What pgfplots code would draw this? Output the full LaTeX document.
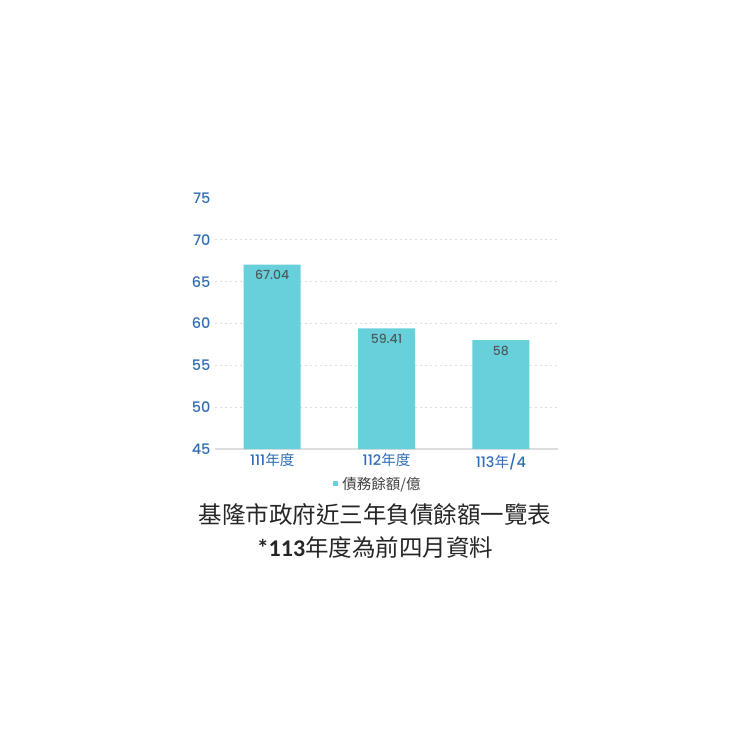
\documentclass[border=0pt]{standalone}
\usepackage{pgfplots}
\pgfplotsset{compat=1.18}
\usepackage{fontspec}
\setmainfont{Poppins}[UprightFont=* Medium]
\newfontfamily\cjk{Noto Sans CJK TC}
\newfontfamily\calib{Carlito}
\definecolor{barcol}{HTML}{67D0DB}
\definecolor{tickblue}{HTML}{2F6EB5}
\definecolor{valgray}{HTML}{4F5A5C}
\definecolor{gridgray}{HTML}{DDDDDD}
\begin{document}
\begin{tikzpicture}
\useasboundingbox (0,0) rectangle (750pt,-750pt);
\begin{axis}[
    at={(215pt,-449pt)}, anchor=south west,
    scale only axis,
    width=343pt, height=251pt,
    ybar, bar width=57pt,
    xmin=-0.5, xmax=2.5,
    ymin=45, ymax=75,
    xtick=data,
    xticklabels={111{\cjk 年度}, 112{\cjk 年度}, 113{\cjk 年}/4},
    ytick={45,50,...,75},
    extra y ticks={50,55,60,65,70},
    extra y tick labels={},
    extra y tick style={ymajorgrids=true},
    grid style={gridgray, dash pattern=on 2pt off 3pt, line width=0.8pt},
    major tick length=0pt,
    axis x line*=bottom, axis y line*=left,
    y axis line style={draw=none},
    x axis line style={draw=gridgray, line width=1.2pt, -},
    tick label style={font=\fontsize{14.5}{16}\selectfont, text=tickblue},
    /pgf/number format/assume math mode=true,
    yticklabel style={xshift=-1pt},
    xticklabel style={yshift=-1pt},
    nodes near coords,
    every node near coord/.append style={anchor=north, yshift=-2pt,
        font=\fontsize{12.5}{14}\selectfont, text=valgray},
    legend style={at={(0.475,-0.138)}, anchor=center, draw=none, fill=none,
        font=\fontsize{14.5}{16}\selectfont\cjk, text=black!75,
        inner sep=0pt, column sep=2pt},
    legend image code/.code={\fill[barcol] (0pt,-2.5pt) rectangle (5pt,2.5pt);},
]
\addplot[fill=barcol, draw=none] coordinates {(0,67.04) (1,59.41) (2,58)};
\addlegendentry{債務餘額/億}
\end{axis}
\node[text=black!85, font=\fontsize{23.5}{26}\selectfont\cjk] at (375pt,-515pt) {基隆市政府近三年負債餘額一覽表};
\node[text=black!85, font=\fontsize{23.5}{26}\selectfont\cjk] at (375pt,-548pt) {{\calib\bfseries\fontsize{24}{26}\selectfont *113}年度為前四月資料};
\end{tikzpicture}
\end{document}
